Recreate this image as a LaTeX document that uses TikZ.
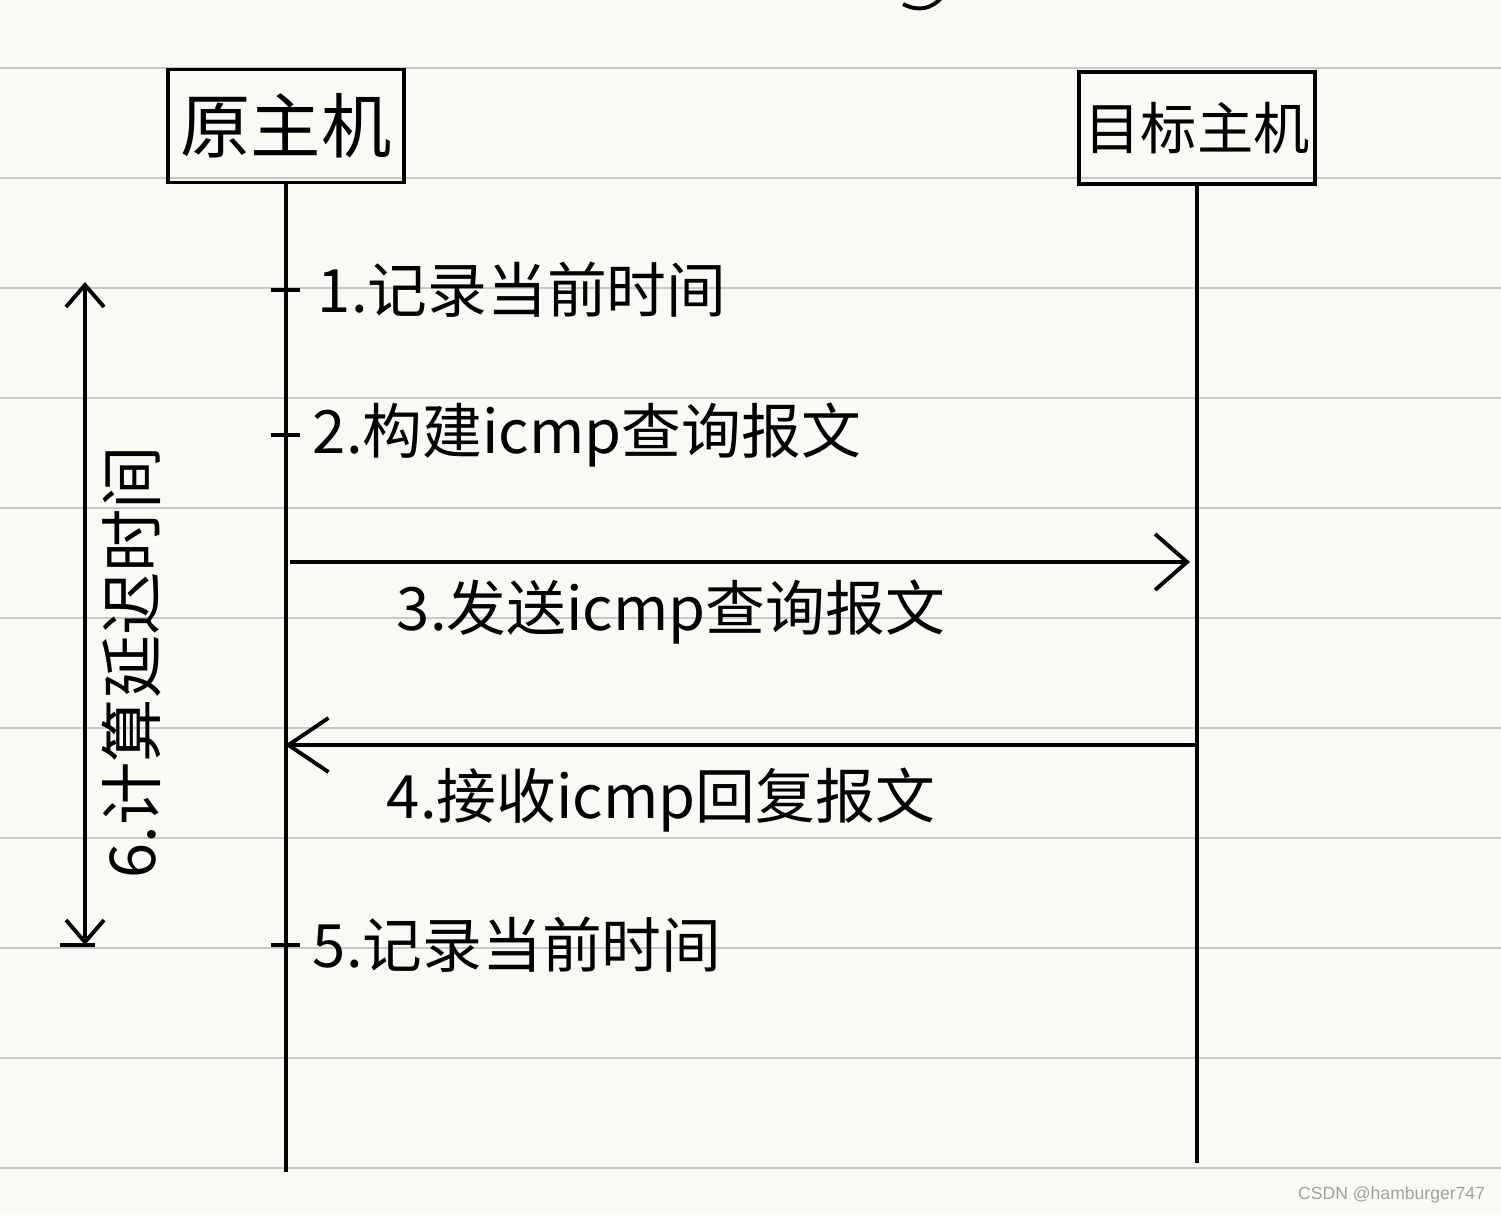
\documentclass[tikz,border=0pt]{standalone}
\usepackage{fontspec}
\setmainfont{Noto Sans CJK SC}
\setsansfont{Liberation Sans}
\usepackage{xcolor}
\usetikzlibrary{arrows.meta, positioning, calc}
\definecolor{paper}{HTML}{FBF9F5}
\definecolor{ruling}{HTML}{C8C8C8}
\definecolor{wmark}{HTML}{A0A0A0}

\begin{document}
\begin{tikzpicture}[x=0.01cm, y=-0.01cm, line width=1.1pt,
    >={Straight Barb[length=3.2mm, width=5.6mm, line width=1.1pt]}]
  \tikzstyle{host} = [draw, line width=1pt, minimum width=2.36cm, minimum height=1.13cm, inner sep=0pt]
  \tikzstyle{msg} = [anchor=west, inner sep=0pt, font=\fontsize{17}{20}\selectfont]
  \tikzstyle{stub} = [line width=1.2pt]

  % ruled paper
  \fill[paper] (0,0) rectangle (1501,1215);
  \useasboundingbox (0,0) rectangle (1501,1215);
  \foreach \y in {68,178,...,1170}
    \draw[ruling, line width=0.7pt] (0,\y) -- (1501,\y);
  \draw (903,4) .. controls (918,12) and (932,9) .. (942,-3);

  % hosts and lifelines
  \node[host, font=\fontsize{20}{24}\selectfont] (src) at (286,126) {原主机};
  \node[host, minimum height=1.12cm, font=\fontsize{16}{20}\selectfont] (dst) at (1197,128) {目标主机};
  \coordinate (srcEnd) at (src.south |- 0,1172);
  \coordinate (dstEnd) at (dst.south |- 0,1163);
  \draw (src.south) -- (srcEnd);
  \draw (dst.south) -- (dstEnd);

  % local steps on the source host
  \coordinate (t1) at (src.south |- 0,290);
  \coordinate (t2) at (src.south |- 0,435);
  \coordinate (t5) at (src.south |- 0,945);
  \foreach \t in {t1,t2,t5}
    \draw[stub] ($(\t)+(-15,0)$) -- ($(\t)+(14,0)$);
  \node[msg, right=0.3cm of t1] (m1) {1.记录当前时间};
  \node[msg, right=0.25cm of t2] (m2) {2.构建icmp查询报文};
  \node[msg, right=0.25cm of t5] (m5) {5.记录当前时间};

  % messages
  \coordinate (s3) at (290,562);
  \coordinate (d3) at (1190,562);
  \coordinate (d4) at (1198,745);
  \coordinate (s4) at (285,745);
  \draw[->] (s3) -- (d3);
  \draw[->, >={Straight Barb[length=4mm, width=5.4mm, line width=1.1pt]}] (d4) -- (s4);
  \node[msg] (m3) at (395,612) {3.发送icmp查询报文};
  \node[msg] (m4) at (385,800) {4.接收icmp回复报文};

  % round trip time
  \coordinate (rttTop) at (85,282);
  \coordinate (rttBot) at (85,945);
  \draw[<->, >={Straight Barb[length=2.2mm, width=3.8mm, line width=1.1pt]}] (rttTop) -- (rttBot);
  \draw[stub] ($(rttBot)+(-25,0)$) -- ($(rttBot)+(10,0)$);
  \node[rotate=90, inner sep=0pt, font=\fontsize{18}{20}\selectfont] (rtt) at (132,662) {6.计算延迟时间};

  \node[anchor=east, inner sep=0pt, text=wmark, font=\sffamily\fontsize{5}{6}\selectfont] (wm) at (1487,1195) {CSDN @hamburger747};
\end{tikzpicture}
\end{document}
